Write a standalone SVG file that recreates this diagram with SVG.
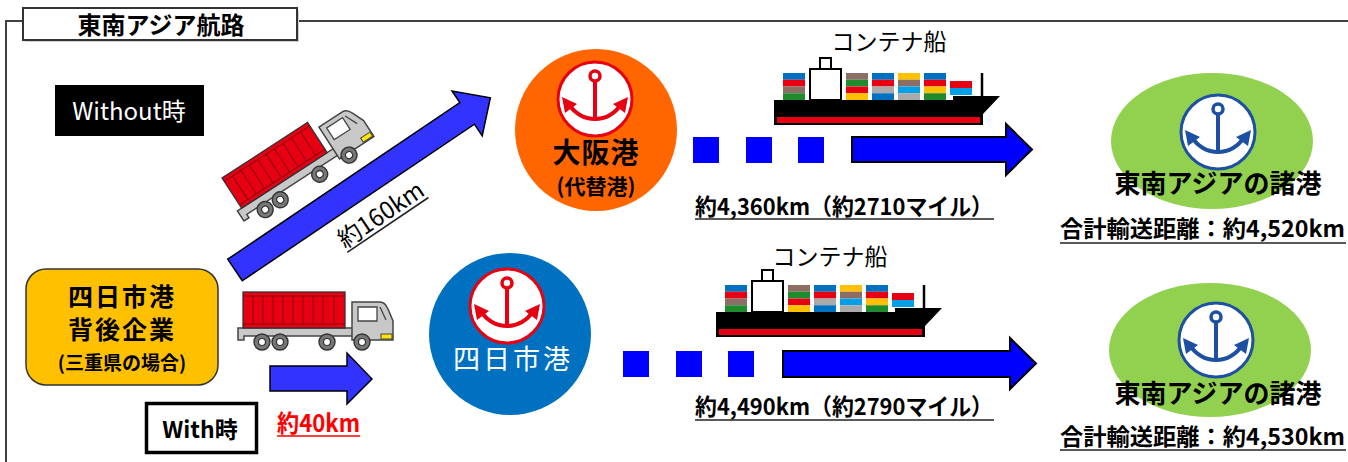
<svg xmlns="http://www.w3.org/2000/svg" xmlns:xlink="http://www.w3.org/1999/xlink" width="1348" height="462" viewBox="0 0 1348 462">
  <style>
    text { font-family: "Noto Sans CJK JP", "Noto Sans", "Liberation Sans", sans-serif; }
    .b { font-weight: bold; }
    .mid { text-anchor: middle; }
    .frame { fill: none; stroke: #404040; stroke-width: 2; }
    .arrow-lt { fill: #3333ff; stroke: #000; stroke-width: 1.5; stroke-linejoin: miter; }
    .arrow-sea { fill: #0000ff; stroke: #000; stroke-width: 2; }
    .dash { fill: #0000ff; }
    .uline { stroke: #222; stroke-width: 1.6; }
    .badge { fill: #fff; stroke-width: 3; }
    .anc-line { fill: none; stroke-width: 4; }
    .wheel { fill: #777; stroke: #333; stroke-width: 1.4; }
    .hub { fill: #fff; stroke: #333; stroke-width: 1.2; }
    .grey { fill: #c8c8c8; stroke: #444; stroke-width: 1.5; }
  </style>
  <defs>
    <!-- anchor emblem, drawn in currentColor around (0,0) -->
    <symbol id="anchor" overflow="visible">
      <circle class="badge" r="37" stroke="currentColor"/>
      <circle cx="0" cy="-23" r="5" fill="none" stroke="currentColor" stroke-width="3.5"/>
      <line class="anc-line" x1="0" y1="-18" x2="0" y2="21" stroke="currentColor"/>
      <path class="anc-line" d="M-26,5 A30,30 0 0 0 26,5" stroke="currentColor"/>
      <polygon points="-33,-2 -18,5 -30,14" fill="currentColor"/>
      <polygon points="33,-2 18,5 30,14" fill="currentColor"/>
    </symbol>
    <!-- container truck, origin at top-left corner of the container -->
    <symbol id="truck" overflow="visible">
      <polygon class="grey" points="-5,36 112,36 112,44 1,44 1,48 -5,48"/>
      <rect x="0" y="0" width="102" height="36" fill="#e60012" stroke="#333" stroke-width="1.3"/>
      <g stroke="#8a0010" stroke-width="1">
        <line x1="0" y1="4" x2="102" y2="4"/>
        <line x1="0" y1="32" x2="102" y2="32"/>
        <line x1="10" y1="4" x2="10" y2="32"/><line x1="20" y1="4" x2="20" y2="32"/>
        <line x1="30" y1="4" x2="30" y2="32"/><line x1="40" y1="4" x2="40" y2="32"/>
        <line x1="50" y1="4" x2="50" y2="32"/><line x1="60" y1="4" x2="60" y2="32"/>
        <line x1="70" y1="4" x2="70" y2="32"/><line x1="80" y1="4" x2="80" y2="32"/>
        <line x1="91" y1="4" x2="91" y2="32"/>
      </g>
      <path class="grey" d="M109,10 L137,10 Q142,10 145,17 L150,29 L150,48 L109,48 Z"/>
      <path d="M115,15 L134,15 L134,29 L115,29 Z" fill="#fff" stroke="#444" stroke-width="1.3"/>
      <path d="M137,15 L143,28" stroke="#444" stroke-width="1.3"/>
      <rect x="138" y="42" width="11" height="5" fill="#ffe600" stroke="#444" stroke-width="1"/>
      <circle class="wheel" cx="19" cy="50" r="8"/><circle class="hub" cx="19" cy="50" r="3.5"/>
      <circle class="wheel" cx="37" cy="50" r="8"/><circle class="hub" cx="37" cy="50" r="3.5"/>
      <circle class="wheel" cx="84" cy="50" r="8"/><circle class="hub" cx="84" cy="50" r="3.5"/>
      <circle class="wheel" cx="119" cy="50" r="8"/><circle class="hub" cx="119" cy="50" r="3.5"/>
    </symbol>
    <!-- container ship, origin at the stern end of the deck line -->
    <symbol id="ship" overflow="visible">
      <g>
        <rect x="9" y="-27" width="22" height="6.75" fill="#0070c0"/>
        <rect x="9" y="-20.25" width="22" height="6.75" fill="#e60012"/>
        <rect x="9" y="-13.5" width="22" height="6.75" fill="#8c6e64"/>
        <rect x="9" y="-6.75" width="22" height="6.75" fill="#1e8c2d"/>

        <rect x="72" y="-27" width="22" height="6.75" fill="#8c6e64"/>
        <rect x="72" y="-20.25" width="22" height="6.75" fill="#1e8c2d"/>
        <rect x="72" y="-13.5" width="22" height="6.75" fill="#e60012"/>
        <rect x="72" y="-6.75" width="22" height="6.75" fill="#ffc000"/>

        <rect x="98" y="-27" width="22" height="6.75" fill="#0070c0"/>
        <rect x="98" y="-20.25" width="22" height="6.75" fill="#e60012"/>
        <rect x="98" y="-13.5" width="22" height="6.75" fill="#aaaaaa"/>
        <rect x="98" y="-6.75" width="22" height="6.75" fill="#0070c0"/>

        <rect x="124" y="-27" width="22" height="6.75" fill="#ffc000"/>
        <rect x="124" y="-20.25" width="22" height="6.75" fill="#8c6e64"/>
        <rect x="124" y="-13.5" width="22" height="6.75" fill="#00a0e9"/>
        <rect x="124" y="-6.75" width="22" height="6.75" fill="#aaaaaa"/>

        <rect x="150" y="-27" width="22" height="6.75" fill="#0070c0"/>
        <rect x="150" y="-20.25" width="22" height="6.75" fill="#e60012"/>
        <rect x="150" y="-13.5" width="22" height="6.75" fill="#ffc000"/>
        <rect x="150" y="-6.75" width="22" height="6.75" fill="#1e8c2d"/>

        <rect x="176" y="-19" width="22" height="7" fill="#e60012"/>
        <rect x="176" y="-12" width="22" height="7" fill="#00a0e9"/>
      </g>
      <rect x="46" y="-42" width="11" height="11" fill="#fff" stroke="#000" stroke-width="2"/>
      <rect x="36" y="-31" width="31" height="31" fill="#fff" stroke="#000" stroke-width="2"/>
      <line x1="208" y1="-27" x2="208" y2="-3" stroke="#000" stroke-width="2.5"/>
      <path d="M0,0 L179,0 L179,-4 L226,-4 L209,14 L209,25 L0,25 Z" fill="#000"/>
      <rect x="3" y="17" width="203" height="6" fill="#e60012"/>
    </symbol>
  </defs>

  <rect width="1348" height="462" fill="#fff"/>

  <!-- outer frame and title tab -->
  <g id="frame">
    <path class="frame" d="M1348,21 L6,21 L6,462"/>
    <rect x="25" y="10" width="274" height="32" fill="#d0d0d0"/>
    <rect x="23" y="8" width="274" height="32" fill="#fff" stroke="#333" stroke-width="2"/>
    <text class="b mid" x="161" y="34" font-size="24">東南アジア航路</text>
  </g>

  <!-- connectors: land routes and sea routes -->
  <g id="connectors">
    <polygon class="arrow-lt" transform="translate(235,270) rotate(-34)" points="0,-13 280,-13 280,-27 308,0 280,27 280,13 0,13"/>
    <polygon class="arrow-lt" points="270,366 347,366 347,353 372,379 347,404 347,391 270,391"/>
    <rect class="dash" x="693" y="137" width="26" height="26"/>
    <rect class="dash" x="746" y="137" width="26" height="26"/>
    <rect class="dash" x="798" y="137" width="26" height="26"/>
    <polygon class="arrow-sea" points="852,137 1006,137 1006,124 1032,149.5 1006,175 1006,162 852,162"/>
    <rect class="dash" x="623" y="351" width="26" height="26"/>
    <rect class="dash" x="676" y="351" width="26" height="26"/>
    <rect class="dash" x="728" y="351" width="26" height="26"/>
    <polygon class="arrow-sea" points="783,351 1010,351 1010,338 1036,363.5 1010,389 1010,377 783,377"/>
  </g>

  <!-- route labels -->
  <g id="label-160km" transform="translate(345,249) rotate(-34)">
    <text x="0" y="0" font-size="24" textLength="98" lengthAdjust="spacingAndGlyphs">約160km</text>
    <line class="uline" x1="0" y1="4" x2="98" y2="4"/>
  </g>
  <g id="label-40km">
    <text class="b" x="277" y="432" font-size="24" fill="#ff0000" textLength="83" lengthAdjust="spacingAndGlyphs">約40km</text>
    <line x1="277" y1="436" x2="360" y2="436" stroke="#ff0000" stroke-width="1.6"/>
  </g>
  <g id="label-sea-osaka">
    <text class="b" x="695" y="215" font-size="23" textLength="298" lengthAdjust="spacingAndGlyphs">約4,360km（約2710マイル）</text>
    <line class="uline" x1="695" y1="219" x2="994" y2="219"/>
  </g>
  <g id="label-sea-yokkaichi">
    <text class="b" x="695" y="415" font-size="23" textLength="298" lengthAdjust="spacingAndGlyphs">約4,490km（約2790マイル）</text>
    <line class="uline" x1="695" y1="420" x2="994" y2="420"/>
  </g>

  <!-- scenario tags -->
  <g id="tag-without">
    <rect x="55" y="85" width="149" height="51" fill="#000"/>
    <text class="mid" x="129" y="120" font-size="24" fill="#fff">Without時</text>
  </g>
  <g id="tag-with">
    <rect x="146.5" y="403.5" width="110" height="49" fill="#fff" stroke="#000" stroke-width="3.5"/>
    <text class="b mid" x="200" y="438" font-size="23">With時</text>
  </g>

  <!-- trucks -->
  <g id="truck-without">
    <use href="#truck" xlink:href="#truck" transform="translate(222,178) rotate(-33)"/>
  </g>
  <g id="truck-with">
    <use href="#truck" xlink:href="#truck" transform="translate(243,292)"/>
  </g>

  <!-- origin: shippers behind Yokkaichi port -->
  <g id="node-shipper">
    <rect x="26" y="269" width="192" height="116" rx="20" fill="#ffc000" stroke="#333" stroke-width="1.5"/>
    <text class="b mid" x="122" y="306" font-size="25" letter-spacing="2">四日市港</text>
    <text class="b mid" x="122" y="339" font-size="25" letter-spacing="2">背後企業</text>
    <text class="b mid" x="122" y="370" font-size="19">(三重県の場合)</text>
  </g>

  <!-- Osaka port -->
  <g id="node-osaka">
    <circle cx="596" cy="130" r="81" fill="#ff6600"/>
    <use href="#anchor" xlink:href="#anchor" x="595" y="99" color="#e60012"/>
    <text class="b mid" x="596" y="163" font-size="28" letter-spacing="1">大阪港</text>
    <text class="b mid" x="596" y="194" font-size="21">(代替港)</text>
  </g>

  <!-- Yokkaichi port -->
  <g id="node-yokkaichi">
    <circle cx="510" cy="334" r="81" fill="#0070c0"/>
    <use href="#anchor" xlink:href="#anchor" x="507" y="306" color="#e60012"/>
    <text class="mid" x="513" y="369" font-size="27" letter-spacing="3" fill="#fff">四日市港</text>
  </g>

  <!-- container ships -->
  <g id="ship-upper">
    <text class="mid" x="889" y="50" font-size="23">コンテナ船</text>
    <use href="#ship" xlink:href="#ship" x="774" y="100"/>
  </g>
  <g id="ship-lower">
    <text class="mid" x="830" y="265" font-size="23">コンテナ船</text>
    <use href="#ship" xlink:href="#ship" x="716" y="312"/>
  </g>

  <!-- destination: Southeast Asian ports -->
  <g id="node-sea-upper">
    <ellipse cx="1212" cy="141" rx="101" ry="68" fill="#92d050"/>
    <use href="#anchor" xlink:href="#anchor" x="1218" y="132" color="#1d50a2"/>
    <text class="b mid" x="1218" y="193" font-size="26">東南アジアの諸港</text>
    <text class="b" x="1060" y="237" font-size="23" textLength="285" lengthAdjust="spacingAndGlyphs">合計輸送距離：約4,520km</text>
    <line class="uline" x1="1060" y1="243" x2="1346" y2="243"/>
  </g>
  <g id="node-sea-lower">
    <ellipse cx="1210" cy="350" rx="101" ry="67" fill="#92d050"/>
    <use href="#anchor" xlink:href="#anchor" x="1216" y="340" color="#1d50a2"/>
    <text class="b mid" x="1218" y="403" font-size="26">東南アジアの諸港</text>
    <text class="b" x="1060" y="445" font-size="23" textLength="285" lengthAdjust="spacingAndGlyphs">合計輸送距離：約4,530km</text>
    <line class="uline" x1="1060" y1="450" x2="1346" y2="450"/>
  </g>
</svg>
